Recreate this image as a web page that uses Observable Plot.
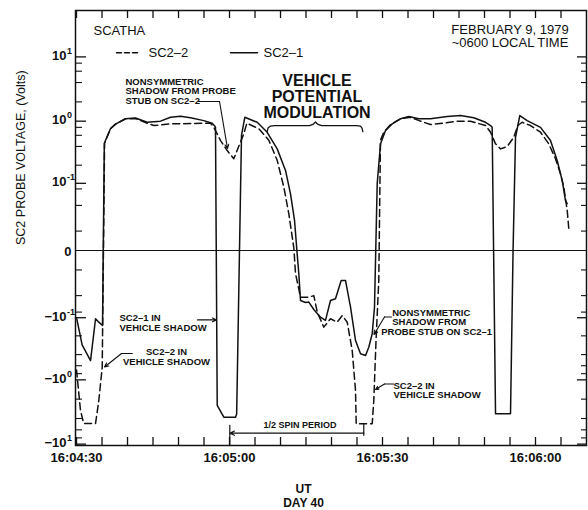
<!DOCTYPE html>
<html><head><meta charset="utf-8">
<script src="https://cdn.jsdelivr.net/npm/d3@7"></script>
<script src="https://cdn.jsdelivr.net/npm/@observablehq/plot@0.6"></script>
<style>
html,body{margin:0;padding:0;background:#fff;}
#chart{width:588px;height:510px;}
</style></head><body><div id="chart"></div>
<script>
// time = seconds after 16:04:00 UT, voltage in volts
const sc21Time = [30.0, 31.1, 32.75, 33.73, 34.37, 35.1, 35.45, 36.67, 37.65, 39.6, 41.57, 43.86, 46.47, 48.43, 50.39, 52.35, 54.96, 56.6, 57.06, 57.25, 57.59, 58.88, 61.18, 61.4, 62.35, 63.0, 65.43, 67.39, 69.35, 70.98, 71.96, 72.75, 73.27, 73.59, 73.92, 74.9, 75.55, 76.53, 77.84, 78.82, 79.8, 80.78, 81.9, 82.75, 83.73, 84.71, 85.69, 86.67, 87.31, 87.98, 88.43, 88.63, 88.96, 89.61, 90.59, 91.9, 93.53, 95.16, 97.12, 99.41, 102.69, 105.29, 107.9, 110.2, 111.18, 111.5, 112.16, 115.1, 115.6, 116.08, 116.92, 118.37, 120.98, 122.94, 124.25, 125.24, 125.88, 126.22];
const sc21Volts = [-0.1, -0.28, -0.5, -0.104, -0.119, -0.135, 0.45, 0.767, 0.9, 1.09, 1.12, 0.96, 1.0, 1.15, 1.19, 1.13, 1.02, 0.93, 0.85, 0.8, -2.51, -3.82, -3.82, -3.4, 0.6, 1.15, 0.96, 0.67, 0.366, 0.164, 0.0656, 0.0192, -0.0013, -0.0129, -0.0495, -0.054, -0.053, -0.072, -0.098, -0.111, -0.0495, -0.046, -0.0192, -0.0192, -0.0656, -0.238, -0.389, -0.413, -0.305, -0.185, -0.0656, -0.0043, 0.098, 0.44, 0.713, 0.908, 1.088, 1.18, 1.09, 1.09, 1.18, 1.225, 1.13, 0.96, 0.854, 0.8, -3.38, -3.38, 0.0, 0.559, 1.225, 1.02, 0.8, 0.496, 0.238, 0.111, 0.0495, 0.0435];

const sc22Time = [30.0, 30.78, 31.4, 33.73, 34.37, 35.04, 35.5, 36.67, 37.65, 39.6, 41.57, 43.86, 45.16, 48.43, 56.27, 56.92, 58.24, 59.55, 60.84, 62.8, 63.4, 65.75, 67.71, 69.35, 70.65, 71.63, 72.61, 72.94, 73.92, 75.55, 76.53, 77.2, 78.49, 79.8, 81.12, 82.1, 83.08, 84.06, 84.71, 84.84, 87.98, 88.29, 88.73, 89.27, 89.6, 90.25, 91.57, 93.53, 95.49, 97.45, 99.41, 102.02, 104.65, 107.25, 110.2, 111.18, 112.16, 113.14, 114.45, 115.75, 116.53, 117.39, 119.02, 120.98, 122.61, 123.92, 124.9, 125.55, 126.22, 126.53];
const sc22Volts = [-0.7, -3.0, -4.78, -4.78, -2.1, -0.633, 0.45, 0.76, 0.9, 1.09, 1.1, 0.93, 0.854, 0.908, 0.93, 0.804, 0.496, 0.344, 0.254, 0.633, 0.93, 0.76, 0.5, 0.24, 0.086, 0.027, 0.001, -0.0127, -0.043, -0.043, -0.04, -0.08, -0.144, -0.104, -0.119, -0.092, -0.119, -0.344, -1.47, -4.83, -4.83, -2.1, -0.238, -0.019, 0.5, 0.671, 0.886, 1.088, 1.15, 1.0, 0.886, 0.93, 1.0, 1.0, 0.854, 0.671, 0.44, 0.366, 0.399, 0.559, 0.854, 0.962, 0.854, 0.671, 0.44, 0.254, 0.144, 0.0857, 0.0317, 0.0117];

const xTickSeconds = [30, 60, 90, 120];
const xTickLabels = ["16:04:30", "16:05:00", "16:05:30", "16:06:00"];
const xMinorSeconds = [30, 35, 40, 45, 50, 55, 60, 65, 70, 75, 80, 85, 90, 95, 100, 105, 110, 115, 120, 125];

const yTickValues = [10, 1, 0.1, -0.1, -1, -10];
const yTickBase = ["10", "10", "10", "\u221210", "\u221210", "\u221210"];
const yTickExp = ["1", "0", "-1", "-1", "0", "1"];
const yMinorValues = [8, 6, 4, 2, 0.8, 0.6, 0.4, 0.2, 0.08, 0.04, 0.01, -0.01, -0.04, -0.08, -0.2, -0.4, -0.6, -0.8, -2, -4, -6, -8];

const seriesNames = ["SC2\u20132", "SC2\u20131"];

// annotation anchors (time, volts)
const braceTime = [67.39, 67.55, 68.04, 68.82, 75.69, 76.47, 76.86, 77.25, 78.04, 84.9, 85.69, 85.98, 86.14];
const braceVolts = [0.688, 0.781, 0.839, 0.854, 0.854, 0.902, 0.969, 0.902, 0.854, 0.854, 0.839, 0.781, 0.688];

const W = 588, H = 510, mL = 75, mR = 2, mT = 10, mB = 65;
const fw = W - mL - mR, fh = H - mT - mB;
const ink = "#111";
const zip = (ts, vs) => ts.map((t, i) => ({t, v: vs[i]}));
const sc21 = zip(sc21Time, sc21Volts);
const sc22 = zip(sc22Time, sc22Volts);
const brace = zip(braceTime, braceVolts);
const yLab = yTickValues.map((v, i) => ({v, base: yTickBase[i], exp: yTickExp[i]}));
const xLab = xTickSeconds.map((t, i) => ({t, label: xTickLabels[i]}));

const small = {fontSize: 9.5, fontWeight: "bold", fill: ink, lineHeight: 1.02};
const seg = (a, b) => [{t: a[0], v: a[1]}, {t: b[0], v: b[1]}];
const arrowOpts = {x1: "t1", y1: "v1", x2: "t2", y2: "v2", stroke: ink, strokeWidth: 1.1, headLength: 6, headAngle: 50};

const chart = Plot.plot({
  width: W, height: H,
  marginLeft: mL, marginRight: mR, marginTop: mT, marginBottom: mB,
  x: {domain: [29.8, 130], axis: null},
  y: {type: "symlog", constant: 0.01, domain: [-10.5, 52.4], axis: null},
  style: {fontFamily: "'Liberation Sans', Arial, Helvetica, sans-serif", color: ink, background: "#fff"},
  marks: [
    Plot.frame({stroke: ink, strokeWidth: 1.5}),
    Plot.ruleY([0], {stroke: ink, strokeWidth: 1.2}),
    // inward ticks
    Plot.tickY(yTickValues, {y: d => d, insetRight: fw - 11, stroke: ink, strokeWidth: 1.3}),
    Plot.tickY(yMinorValues, {y: d => d, insetRight: fw - 7, stroke: ink, strokeWidth: 1.1}),
    Plot.tickY(yTickValues, {y: d => d, insetLeft: fw - 9, stroke: ink, strokeWidth: 1.3}),
    Plot.tickY(yMinorValues, {y: d => d, insetLeft: fw - 5, stroke: ink, strokeWidth: 1.1}),
    Plot.tickX(xMinorSeconds, {x: d => d, insetTop: fh - 8, stroke: ink, strokeWidth: 1.3}),
    Plot.tickX(xMinorSeconds, {x: d => d, insetBottom: fh - 8, stroke: ink, strokeWidth: 1.3}),
    // tick labels
    Plot.text(xLab, {x: "t", text: "label", frameAnchor: "bottom", lineAnchor: "top", dy: 7, fontSize: 13, fontWeight: "bold", fill: ink}),
    Plot.text(yLab, {y: "v", text: "base", frameAnchor: "left", textAnchor: "end", lineAnchor: "middle", dx: -9, dy: -1, fontSize: 13, fontWeight: "bold", fill: ink}),
    Plot.text(yLab, {y: "v", text: "exp", frameAnchor: "left", textAnchor: "start", lineAnchor: "bottom", dx: -8.5, dy: -3, fontSize: 9, fontWeight: "bold", fill: ink}),
    Plot.text([0], {y: d => d, text: () => "0", frameAnchor: "left", textAnchor: "end", lineAnchor: "middle", dx: -4, dy: 1, fontSize: 13, fontWeight: "bold", fill: ink}),
    Plot.text(["SC2 PROBE VOLTAGE, (Volts)"], {text: d => d, frameAnchor: "left", dx: -55, dy: 17, rotate: -90, lineAnchor: "middle", fontSize: 12.5, fill: ink}),
    Plot.text(["UT\nDAY 40"], {text: d => d, frameAnchor: "bottom", dx: 303 - (mL + fw / 2), dy: 61, lineAnchor: "bottom", lineHeight: 1.12, fontSize: 12, fontWeight: "bold", fill: ink}),
    // data
    Plot.line(sc22, {x: "t", y: "v", stroke: ink, strokeWidth: 1.5, strokeDasharray: "7,4"}),
    Plot.line(sc21, {x: "t", y: "v", stroke: ink, strokeWidth: 1.5}),
    // legend & headers
    Plot.text([{t: 33.33, v: 22.2}], {x: "t", y: "v", text: () => "SCATHA", textAnchor: "start", lineAnchor: "bottom", fontSize: 13, fill: ink}),
    Plot.line(seg([37.84, 11.55], [42.16, 11.55]), {x: "t", y: "v", stroke: ink, strokeWidth: 1.5, strokeDasharray: "5,3"}),
    Plot.line(seg([60.2, 11.55], [65.49, 11.55]), {x: "t", y: "v", stroke: ink, strokeWidth: 1.5}),
    Plot.text([{t: 44.12, v: 11.55, s: seriesNames[0]}, {t: 66.67, v: 11.55, s: seriesNames[1]}], {x: "t", y: "v", text: "s", textAnchor: "start", lineAnchor: "middle", fontSize: 13, fill: ink}),
    Plot.text([{t: 115.0, v: 14.1}], {x: "t", y: "v", text: () => "FEBRUARY 9, 1979\n~0600 LOCAL TIME", textAnchor: "middle", lineAnchor: "bottom", lineHeight: 1.05, fontSize: 13, fill: ink}),
    // vehicle potential modulation
    Plot.text([{t: 77.16, v: 1.14}], {x: "t", y: "v", text: () => "VEHICLE\nPOTENTIAL\nMODULATION", textAnchor: "middle", lineAnchor: "bottom", lineHeight: 1.0, fontSize: 16, fontWeight: "bold", fill: ink}),
    Plot.line(brace, {x: "t", y: "v", stroke: ink, strokeWidth: 1.3}),
    // nonsymmetric shadow SC2-2
    Plot.text([{t: 39.6, v: 1.852}], {x: "t", y: "v", text: () => "NONSYMMETRIC\nSHADOW FROM PROBE\nSTUB ON SC2\u20132", textAnchor: "start", lineAnchor: "bottom", ...small}),
    Plot.line(seg([53.92, 2.03], [58.04, 2.03]), {x: "t", y: "v", stroke: ink, strokeWidth: 1.1}),
    Plot.arrow([{t1: 58.04, v1: 2.03, t2: 59.61, v2: 0.37}], arrowOpts),
    // SC2-1 in vehicle shadow
    Plot.text([{t: 38.43, v: -0.164}], {x: "t", y: "v", text: () => "SC2\u20131 IN\nVEHICLE SHADOW", textAnchor: "start", lineAnchor: "bottom", ...small}),
    Plot.arrow([{t1: 53.73, v1: -0.109, t2: 57.45, v2: -0.109}], arrowOpts),
    // SC2-2 in vehicle shadow (left)
    Plot.text([{t: 47.65, v: -0.574}], {x: "t", y: "v", text: () => "SC2\u20132 IN\nVEHICLE SHADOW", textAnchor: "middle", lineAnchor: "bottom", ...small}),
    Plot.line(seg([40.92, -0.384], [38.82, -0.384]), {x: "t", y: "v", stroke: ink, strokeWidth: 1.1}),
    Plot.arrow([{t1: 38.82, v1: -0.384, t2: 35.49, v2: -0.628}], arrowOpts),
    // nonsymmetric shadow SC2-1
    Plot.text([{t: 91.9, v: -0.135}], {x: "t", y: "v", text: () => "NONSYMMETRIC\nSHADOW FROM", textAnchor: "start", lineAnchor: "bottom", ...small}),
    Plot.text([{t: 89.75, v: -0.197}], {x: "t", y: "v", text: () => "PROBE STUB ON SC2\u20131", textAnchor: "start", lineAnchor: "bottom", ...small}),
    Plot.line(seg([91.76, -0.097], [90.39, -0.097]), {x: "t", y: "v", stroke: ink, strokeWidth: 1.1}),
    Plot.arrow([{t1: 90.39, v1: -0.097, t2: 88.33, v2: -0.19}], arrowOpts),
    // SC2-2 in vehicle shadow (right)
    Plot.text([{t: 92.16, v: -1.953}], {x: "t", y: "v", text: () => "SC2\u20132 IN\nVEHICLE SHADOW", textAnchor: "start", lineAnchor: "bottom", ...small}),
    Plot.line(seg([92.16, -1.161], [90.39, -1.161]), {x: "t", y: "v", stroke: ink, strokeWidth: 1.1}),
    Plot.arrow([{t1: 90.39, v1: -1.161, t2: 88.63, v2: -1.415}], arrowOpts),
    // 1/2 spin period
    Plot.text([{t: 73.82, v: -5.72}], {x: "t", y: "v", text: () => "1/2 SPIN PERIOD", textAnchor: "middle", lineAnchor: "bottom", fontSize: 9, fontWeight: "bold", fill: ink}),
    Plot.arrow([{t1: 86.33, v1: -6.76, t2: 60.06, v2: -6.76}], {...arrowOpts, headLength: 7}),
    Plot.line(seg([60.06, -5.13], [60.06, -10.5]), {x: "t", y: "v", stroke: ink, strokeWidth: 1.2}),
    Plot.line(seg([86.33, -4.8], [86.33, -7.3]), {x: "t", y: "v", stroke: ink, strokeWidth: 1.2})
  ]
});
document.getElementById("chart").append(chart);
</script>
</body></html>
